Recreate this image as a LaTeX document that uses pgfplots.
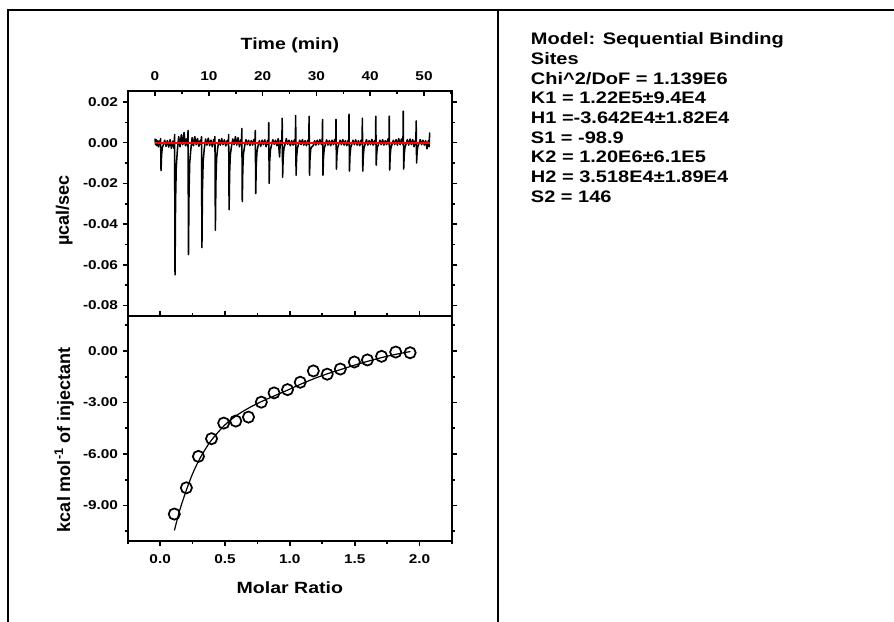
\documentclass[border=0pt]{standalone}
\usepackage{pgfplots}
\pgfplotsset{compat=1.18}
\usepackage{fontspec}
\setmainfont{Liberation Sans}[FakeStretch=1.2]
\newfontfamily\vfont{Liberation Sans}

\newcommand\tickfont{\fontsize{9.6}{11}\selectfont\bfseries}
\newcommand\titlefont{\fontsize{12.2}{14}\selectfont\bfseries}
\newcommand\yfont{\vfont\fontsize{13.5}{16}\selectfont\bfseries}
\newcommand\boxfont{\fontsize{12.5}{15}\selectfont\bfseries}

\pgfplotsset{
  itc/.style={
    scale only axis, anchor=south west, width=243.2pt,
    axis line style={line width=1.3pt},
    tick style={line width=1.2pt, black},
    major tick length=3.75pt, minor tick length=2.4pt,
    tick label style={font=\tickfont},
    scaled ticks=false,
    /pgf/number format/.cd, fixed, fixed zerofill, assume math mode=true,
  },
}

\begin{document}
\begin{tikzpicture}
\path[use as bounding box] (0,0) rectangle (670.5pt,466.5pt);
\draw[line width=1.5pt] (6pt,0pt) -- (6pt,459pt) -- (670.5pt,459pt);
\draw[line width=1.5pt] (373.5pt,0pt) -- (373.5pt,459pt);

% raw heat trace
\begin{axis}[itc,
  at={(95.8pt,229.5pt)}, height=168.75pt,
  xmin=-5.07, xmax=55.2, ymin=-0.0852, ymax=0.0254,
  xtick={0,10,20,30,40,50}, minor xtick={-5,5,15,25,35,45,55},
  ytick={-0.08,-0.06,-0.04,-0.02,0,0.02},
  minor ytick={-0.07,-0.05,-0.03,-0.01,0.01},
  xtick pos=right, xticklabel pos=right,
  ytick pos=both, yticklabel pos=left,
  tick align=outside, xtick align=inside,
  xticklabel style={/pgf/number format/precision=0, yshift=4pt},
  yticklabel style={/pgf/number format/precision=2},
  xlabel={Time (min)},
  xlabel style={at={(axis description cs:0.5,1.204)}, anchor=center, font=\titlefont},
  ylabel={µcal/sec},
  ylabel style={at={(axis description cs:-0.196,0.47)}, anchor=center, font=\yfont},
]
\addplot[black, line width=1.15pt, line join=round] table {
0.00 0.0020
0.10 -0.0010
0.20 0.0015
0.35 -0.0015
0.50 0.0010
0.65 -0.0020
0.80 0.0008
0.95 -0.0010
1.04 0.0020
1.12 -0.0137
1.22 -0.0060
1.35 -0.0025
1.55 -0.0010
1.80 0.0012
2.05 -0.0018
2.30 0.0010
2.55 -0.0022
2.80 0.0015
3.05 -0.0028
3.30 0.0008
3.55 -0.0030
3.64 0.0040
3.72 -0.0650
3.82 -0.0290
3.95 -0.0120
4.15 -0.0040
4.40 0.0030
4.65 -0.0020
4.90 0.0040
5.15 -0.0010
5.40 0.0050
5.65 -0.0015
5.90 0.0020
6.08 -0.0020
6.14 0.0060
6.22 -0.0550
6.32 -0.0250
6.45 -0.0100
6.65 -0.0035
6.90 0.0025
7.15 -0.0015
7.40 0.0030
7.65 -0.0010
7.90 0.0020
8.15 -0.0018
8.40 0.0012
8.58 -0.0010
8.64 0.0030
8.72 -0.0516
8.82 -0.0230
8.95 -0.0093
9.15 -0.0031
9.40 0.0018
9.65 -0.0012
9.90 0.0022
10.15 -0.0015
10.40 0.0012
10.65 -0.0020
10.90 0.0015
11.08 -0.0008
11.14 0.0030
11.22 -0.0430
11.32 -0.0194
11.45 -0.0077
11.65 -0.0026
11.90 0.0016
12.15 -0.0012
12.40 0.0020
12.65 -0.0010
12.90 0.0014
13.15 -0.0016
13.40 0.0010
13.62 -0.0012
13.69 0.0040
13.77 -0.0330
13.87 -0.0150
14.00 -0.0060
14.20 -0.0020
14.45 0.0018
14.70 -0.0010
14.95 0.0030
15.20 -0.0012
15.45 0.0025
15.70 -0.0020
15.95 0.0015
16.08 -0.0010
16.14 0.0070
16.22 -0.0290
16.32 -0.0130
16.45 -0.0052
16.65 -0.0018
16.90 0.0015
17.15 -0.0010
17.40 0.0012
17.65 -0.0014
17.90 0.0010
18.15 -0.0012
18.40 0.0016
18.58 -0.0008
18.64 0.0060
18.72 -0.0250
18.82 -0.0112
18.95 -0.0045
19.15 -0.0015
19.40 0.0010
19.65 -0.0018
19.90 0.0012
20.15 -0.0010
20.40 0.0014
20.65 -0.0020
20.90 0.0010
21.08 -0.0010
21.14 0.0098
21.22 -0.0200
21.32 -0.0090
21.45 -0.0036
21.65 -0.0012
21.90 0.0015
22.15 -0.0008
22.40 0.0012
22.65 -0.0015
22.90 0.0020
23.15 -0.0070
23.30 0.0010
23.45 -0.0010
23.58 0.0015
23.64 0.0120
23.72 -0.0170
23.82 -0.0076
23.95 -0.0030
24.15 -0.0010
24.40 0.0020
24.65 -0.0008
24.90 0.0012
25.15 -0.0015
25.40 0.0010
25.65 -0.0012
25.90 0.0014
26.08 -0.0010
26.14 0.0133
26.22 -0.0160
26.32 -0.0072
26.45 -0.0029
26.65 -0.0010
26.90 0.0012
27.15 -0.0010
27.40 0.0015
27.65 -0.0012
27.90 0.0010
28.15 -0.0015
28.40 0.0012
28.58 -0.0008
28.64 0.0130
28.72 -0.0160
28.82 -0.0072
28.95 -0.0030
29.15 -0.0020
29.40 -0.0015
29.65 0.0010
29.90 -0.0012
30.15 0.0012
30.40 -0.0010
30.65 0.0015
30.90 -0.0008
31.08 0.0010
31.14 0.0114
31.22 -0.0160
31.32 -0.0072
31.45 -0.0029
31.65 -0.0010
31.90 0.0014
32.15 -0.0012
32.40 0.0010
32.65 -0.0015
32.90 0.0012
33.15 -0.0010
33.40 0.0015
33.58 -0.0008
33.64 0.0114
33.72 -0.0130
33.82 -0.0058
33.95 -0.0023
34.15 -0.0008
34.40 0.0012
34.65 -0.0010
34.90 0.0015
35.15 -0.0012
35.40 0.0010
35.65 -0.0015
35.90 0.0012
36.02 -0.0008
36.06 0.0140
36.14 -0.0140
36.24 -0.0063
36.37 -0.0025
36.57 -0.0008
36.80 0.0012
37.05 -0.0010
37.30 0.0014
37.55 -0.0012
37.80 0.0010
38.05 -0.0015
38.30 0.0012
38.48 -0.0008
38.54 0.0120
38.62 -0.0140
38.72 -0.0063
38.85 -0.0025
39.05 -0.0008
39.30 0.0015
39.55 -0.0012
39.80 0.0010
40.05 -0.0010
40.30 0.0016
40.55 -0.0012
40.80 0.0010
40.98 -0.0008
41.04 0.0130
41.12 -0.0110
41.22 -0.0050
41.35 -0.0020
41.55 -0.0008
41.80 0.0012
42.05 -0.0010
42.30 0.0015
42.55 -0.0012
42.80 0.0010
43.05 -0.0010
43.30 0.0018
43.48 -0.0008
43.54 0.0130
43.62 -0.0135
43.72 -0.0060
43.85 -0.0024
44.05 -0.0008
44.30 0.0012
44.55 -0.0010
44.80 0.0015
45.05 -0.0012
45.30 0.0020
45.55 -0.0010
45.80 0.0018
46.08 -0.0008
46.14 0.0155
46.22 -0.0130
46.32 -0.0058
46.45 -0.0023
46.65 -0.0008
46.90 0.0015
47.15 -0.0012
47.40 0.0018
47.65 -0.0010
47.90 0.0015
48.15 -0.0020
48.35 0.0010
48.48 -0.0008
48.54 0.0107
48.62 -0.0100
48.72 -0.0045
48.85 -0.0018
49.05 -0.0006
49.30 0.0015
49.55 -0.0010
49.80 0.0012
50.05 -0.0012
50.30 0.0010
50.55 -0.0030
50.80 0.0010
50.95 -0.0020
51.05 0.0050
};
\addplot[red, line width=1.5pt] coordinates {(0,-0.0002) (51.1,-0.0002)};
\end{axis}

% integrated heats
\begin{axis}[itc,
  at={(95.8pt,61.0pt)}, height=168.5pt,
  xmin=-0.25, xmax=2.25, ymin=-11.05, ymax=2.04,
  xtick={0,0.5,1,1.5,2}, minor xtick={-0.25,0.25,0.75,1.25,1.75,2.25},
  ytick={-9,-6,-3,0}, minor ytick={-10.5,-7.5,-4.5,-1.5,1.5},
  xtick pos=both, xticklabel pos=left,
  ytick pos=both, yticklabel pos=left,
  tick align=outside,
  xticklabel style={/pgf/number format/precision=1, yshift=-3pt},
  yticklabel style={/pgf/number format/precision=2},
  xlabel={Molar Ratio},
  xlabel style={at={(axis description cs:0.5,-0.21)}, anchor=center, font=\titlefont},
  ylabel={kcal mol\textsuperscript{-1} of injectant},
  ylabel style={at={(axis description cs:-0.196,0.45)}, anchor=center, font=\yfont},
]
\addplot[black, only marks, mark=o, mark size=4.2pt, mark options={line width=1.3pt}] table {
0.109 -9.50
0.202 -7.97
0.295 -6.14
0.396 -5.11
0.490 -4.20
0.583 -4.08
0.681 -3.85
0.780 -2.98
0.878 -2.44
0.982 -2.25
1.080 -1.82
1.181 -1.16
1.288 -1.35
1.389 -1.05
1.497 -0.64
1.598 -0.52
1.707 -0.31
1.816 -0.06
1.927 -0.10
};
\addplot[black, line width=0.9pt, smooth] table {
0.11 -10.45
0.15 -9.30
0.20 -8.15
0.25 -7.15
0.30 -6.35
0.35 -5.70
0.40 -5.15
0.50 -4.30
0.60 -3.70
0.70 -3.25
0.80 -2.88
0.90 -2.55
1.00 -2.22
1.10 -1.88
1.20 -1.57
1.30 -1.30
1.40 -1.06
1.50 -0.82
1.60 -0.60
1.70 -0.40
1.80 -0.22
1.93 -0.03
};
\end{axis}

% fit parameters
\begin{scope}[every node/.style={anchor=base west, inner sep=0pt, font=\boxfont}]
\node at (398pt,432.9pt) {Model: Sequential Binding};
\node at (398pt,418.1pt) {Sites};
\node at (398pt,403.35pt) {Chi\textasciicircum 2/DoF = 1.139E6};
\node at (398pt,388.6pt) {K1 = 1.22E5±9.4E4};
\node at (398pt,373.8pt) {H1 =-3.642E4±1.82E4};
\node at (398pt,359.0pt) {S1 = -98.9};
\node at (398pt,344.25pt) {K2 = 1.20E6±6.1E5};
\node at (398pt,329.5pt) {H2 = 3.518E4±1.89E4};
\node at (398pt,314.7pt) {S2 = 146};
\end{scope}
\end{tikzpicture}
\end{document}
